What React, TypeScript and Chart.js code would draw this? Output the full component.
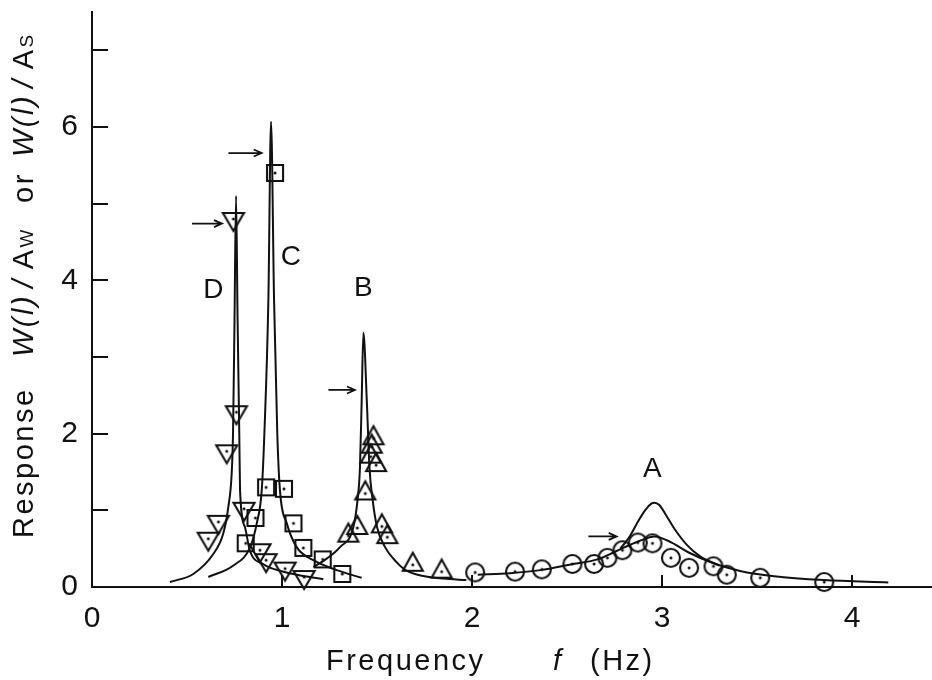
import React, { useEffect, useRef } from 'react';
import { Chart, registerables } from 'chart.js';

Chart.register(...registerables);

// ---------- data ----------
const xTickValues = [0, 1, 2, 3, 4];
const yTickValues = [0, 1, 2, 3, 4, 5, 6, 7];
const yLabeledTicks = [0, 2, 4, 6];
const X_MAX = 4.42;
const Y_MAX = 7.5;

// measured points (frequency f in Hz, response)
const dFreq = [0.612, 0.665, 0.709, 0.744, 0.76, 0.8, 0.884, 0.916, 1.016, 1.116];
const dResp = [0.63, 0.85, 1.77, 4.8, 2.28, 1.02, 0.48, 0.35, 0.24, 0.13];

const cFreq = [0.809, 0.86, 0.916, 0.963, 1.01, 1.06, 1.112, 1.214, 1.317];
const cResp = [0.57, 0.9, 1.3, 5.4, 1.28, 0.83, 0.51, 0.36, 0.17];

const bFreq = [1.349, 1.396, 1.438, 1.467, 1.472, 1.481, 1.495, 1.525, 1.554, 1.688, 1.84];
const bResp = [0.67, 0.77, 1.22, 1.7, 1.83, 1.94, 1.59, 0.79, 0.65, 0.29, 0.2];

const aFreq = [2.016, 2.226, 2.367, 2.528, 2.642, 2.712, 2.791, 2.872, 2.949, 3.046, 3.142, 3.27, 3.34, 3.516, 3.853];
const aResp = [0.19, 0.2, 0.23, 0.3, 0.3, 0.38, 0.48, 0.58, 0.57, 0.38, 0.25, 0.27, 0.16, 0.12, 0.065];

// computed response curves
const dCurveFreq = [0.41, 0.533, 0.638, 0.691, 0.717, 0.735, 0.742, 0.75, 0.758, 0.766, 0.775, 0.779, 0.805, 0.83, 0.9, 1.007, 1.217];
const dCurveResp = [0.065, 0.17, 0.43, 0.7, 1.04, 1.48, 2.0, 3.5, 5.1, 3.5, 2.0, 1.26, 0.78, 0.48, 0.3, 0.2, 0.1];

const cCurveFreq = [0.612, 0.744, 0.832, 0.867, 0.893, 0.907, 0.928, 0.942, 0.958, 0.975, 0.989, 1.025, 1.077, 1.165, 1.288, 1.419];
const cCurveResp = [0.13, 0.28, 0.52, 0.83, 1.26, 2.0, 3.74, 6.07, 3.74, 2.0, 1.26, 0.83, 0.52, 0.35, 0.22, 0.12];

const bCurveFreq = [1.165, 1.235, 1.305, 1.375, 1.397, 1.41, 1.419, 1.428, 1.446, 1.46, 1.477, 1.5, 1.542, 1.6, 1.65, 1.75, 1.85, 1.97];
const bCurveResp = [0.26, 0.37, 0.52, 0.78, 1.13, 1.56, 2.43, 3.32, 2.43, 1.56, 1.13, 0.78, 0.52, 0.33, 0.22, 0.14, 0.11, 0.09];

const aCurveLowFreq = [2.03, 2.2, 2.36, 2.53, 2.66, 2.76, 2.88, 2.96, 3.05, 3.14, 3.27, 3.41, 3.59, 3.85, 4.19];
const aCurveLowResp = [0.16, 0.18, 0.22, 0.3, 0.36, 0.47, 0.6, 0.66, 0.58, 0.45, 0.31, 0.21, 0.14, 0.09, 0.06];

const aCurveHighFreq = [2.78, 2.83, 2.87, 2.91, 2.945, 2.96, 2.985, 3.02, 3.07, 3.13, 3.2, 3.3];
const aCurveHighResp = [0.5, 0.66, 0.84, 1.0, 1.09, 1.1, 1.07, 0.94, 0.74, 0.55, 0.4, 0.28];

// case labels and arrow marks (data coordinates)
const caseNames = ['D', 'C', 'B', 'A'];
const caseLabelFreq = [0.638, 1.046, 1.428, 2.949];
const caseLabelResp = [3.87, 4.3, 3.9, 1.54];
const arrowFromFreq = [0.526, 0.718, 1.244, 2.612];
const arrowToFreq = [0.684, 0.893, 1.384, 2.761];
const arrowResp = [4.74, 5.66, 2.57, 0.66];

// ---------- styling ----------
const INK = '#111111';
const FONT = '"Liberation Sans", Arial, sans-serif';

const zip = (xs: number[], ys: number[]) => xs.map((x, i) => ({ x, y: ys[i] }));

function makeMarker(kind: 'down' | 'up' | 'square' | 'circle'): HTMLCanvasElement {
  const s = 30;
  const c = document.createElement('canvas');
  c.width = s;
  c.height = s;
  const g = c.getContext('2d')!;
  const m = s / 2;
  g.strokeStyle = INK;
  g.lineWidth = 2.1;
  g.lineJoin = 'miter';
  g.beginPath();
  if (kind === 'down') {
    const w = 21, h = 18;
    g.moveTo(m - w / 2, m - h / 3);
    g.lineTo(m + w / 2, m - h / 3);
    g.lineTo(m, m + (2 * h) / 3);
    g.closePath();
  } else if (kind === 'up') {
    const w = 20, h = 18;
    g.moveTo(m - w / 2, m + h / 3);
    g.lineTo(m + w / 2, m + h / 3);
    g.lineTo(m, m - (2 * h) / 3);
    g.closePath();
  } else if (kind === 'square') {
    g.rect(m - 8, m - 8, 16, 16);
  } else {
    g.arc(m, m, 9, 0, Math.PI * 2);
  }
  g.stroke();
  g.fillStyle = INK;
  g.beginPath();
  g.arc(m, m, 1.5, 0, Math.PI * 2);
  g.fill();
  return c;
}

const zeroPadding = (s: any) => {
  s.paddingLeft = 0;
  s.paddingRight = 0;
  s.paddingTop = 0;
  s.paddingBottom = 0;
};

const overlayPlugin = {
  id: 'overlay',
  afterDraw(chart: any) {
    const { ctx } = chart;
    const x = chart.scales.x;
    const y = chart.scales.y;
    ctx.save();
    ctx.strokeStyle = INK;
    ctx.fillStyle = INK;
    ctx.lineWidth = 2;
    ctx.lineCap = 'butt';

    // inward tick marks
    yTickValues.filter((v) => v > 0).forEach((v) => {
      const py = Math.round(y.getPixelForValue(v));
      ctx.beginPath();
      ctx.moveTo(x.left, py);
      ctx.lineTo(x.left + 16, py);
      ctx.stroke();
    });
    xTickValues.filter((v) => v > 0).forEach((v) => {
      const px = Math.round(x.getPixelForValue(v));
      ctx.beginPath();
      ctx.moveTo(px, y.bottom);
      ctx.lineTo(px, y.bottom - 12);
      ctx.stroke();
    });

    // arrows
    ctx.lineWidth = 1.7;
    arrowResp.forEach((r, i) => {
      const py = y.getPixelForValue(r);
      const x0 = x.getPixelForValue(arrowFromFreq[i]);
      const x1 = x.getPixelForValue(arrowToFreq[i]);
      ctx.beginPath();
      ctx.moveTo(x0, py);
      ctx.lineTo(x1, py);
      ctx.moveTo(x1 - 8, py - 3.5);
      ctx.lineTo(x1, py);
      ctx.lineTo(x1 - 8, py + 3.5);
      ctx.stroke();
    });

    // case labels
    ctx.font = `28px ${FONT}`;
    ctx.textAlign = 'center';
    ctx.textBaseline = 'middle';
    caseNames.forEach((n, i) => {
      ctx.fillText(n, x.getPixelForValue(caseLabelFreq[i]), y.getPixelForValue(caseLabelResp[i]));
    });

    // x-axis title
    ctx.textAlign = 'left';
    ctx.textBaseline = 'alphabetic';
    (ctx as any).letterSpacing = '2.5px';
    ctx.font = `29px ${FONT}`;
    ctx.fillText('Frequency', 326, 670);
    ctx.font = `italic 29px ${FONT}`;
    ctx.fillText('f', 553, 670);
    ctx.font = `29px ${FONT}`;
    ctx.fillText('(Hz)', 590, 670);

    // y-axis title (rotated)
    ctx.translate(33, 538);
    ctx.rotate(-Math.PI / 2);
    const run = (text: string, font: string, u: number) => {
      ctx.font = font;
      ctx.fillText(text, u, 0);
      return u + ctx.measureText(text).width;
    };
    const reg = `29px ${FONT}`;
    const ita = `italic 29px ${FONT}`;
    const small = `19px ${FONT}`;
    run('Response', reg, 0);
    let u = run('W(l)', ita, 181);
    u = run('/', ita, u + 6);
    u = run('A', reg, u + 8);
    run('W', small, u);
    run('or', reg, 335);
    u = run('W(l)', ita, 381);
    u = run('/', ita, u + 6);
    u = run('A', reg, u + 8);
    run('S', small, u);
    ctx.restore();
  },
};

export default function App() {
  const ref = useRef<HTMLCanvasElement | null>(null);

  useEffect(() => {
    document.body.style.margin = '0';
    document.body.style.background = '#ffffff';
    const canvas = ref.current;
    if (!canvas) return;

    const curve = (xs: number[], ys: number[]) => ({
      data: zip(xs, ys),
      showLine: true,
      borderColor: INK,
      borderWidth: 2,
      pointRadius: 0,
      fill: false,
      cubicInterpolationMode: 'monotone' as const,
      clip: false as const,
    });
    const marks = (xs: number[], ys: number[], style: HTMLCanvasElement) => ({
      data: zip(xs, ys),
      showLine: false,
      pointStyle: style,
      pointRadius: 10,
      borderColor: INK,
      backgroundColor: 'rgba(0,0,0,0)',
      clip: false as const,
    });

    const chart = new Chart(canvas, {
      type: 'scatter',
      data: {
        datasets: [
          curve(dCurveFreq, dCurveResp),
          curve(cCurveFreq, cCurveResp),
          curve(bCurveFreq, bCurveResp),
          curve(aCurveLowFreq, aCurveLowResp),
          curve(aCurveHighFreq, aCurveHighResp),
          marks(dFreq, dResp, makeMarker('down')),
          marks(cFreq, cResp, makeMarker('square')),
          marks(bFreq, bResp, makeMarker('up')),
          marks(aFreq, aResp, makeMarker('circle')),
        ] as any,
      },
      options: {
        animation: false,
        responsive: false,
        devicePixelRatio: 1,
        layout: { autoPadding: false, padding: { top: 12, left: 0, right: 0, bottom: 0 } },
        plugins: { legend: { display: false }, tooltip: { enabled: false } },
        scales: {
          x: {
            type: 'linear',
            min: 0,
            max: X_MAX,
            afterBuildTicks: (s: any) => {
              s.ticks = xTickValues.map((v) => ({ value: v }));
            },
            afterFit: (s: any) => {
              s.height = 93;
              zeroPadding(s);
            },
            grid: { display: true, drawOnChartArea: false, drawTicks: false },
            border: { display: true, color: INK, width: 2 },
            ticks: {
              color: INK,
              font: { family: FONT, size: 30 },
              padding: 14,
              maxRotation: 0,
              autoSkip: false,
            },
          },
          y: {
            type: 'linear',
            min: 0,
            max: Y_MAX,
            afterBuildTicks: (s: any) => {
              s.ticks = yTickValues.map((v) => ({ value: v }));
            },
            afterFit: (s: any) => {
              s.width = 92;
              zeroPadding(s);
            },
            grid: { display: true, drawOnChartArea: false, drawTicks: false },
            border: { display: true, color: INK, width: 2 },
            ticks: {
              color: INK,
              font: { family: FONT, size: 30 },
              padding: 14,
              autoSkip: false,
              callback: (v: any) => (yLabeledTicks.includes(Number(v)) ? String(v) : ''),
            },
          },
        },
      },
      plugins: [overlayPlugin],
    });

    return () => chart.destroy();
  }, []);

  return (
    <div style={{ position: 'fixed', left: 0, top: 0, width: 932, height: 680, background: '#fff' }}>
      <canvas ref={ref} width={932} height={680} style={{ display: 'block' }} />
    </div>
  );
}
